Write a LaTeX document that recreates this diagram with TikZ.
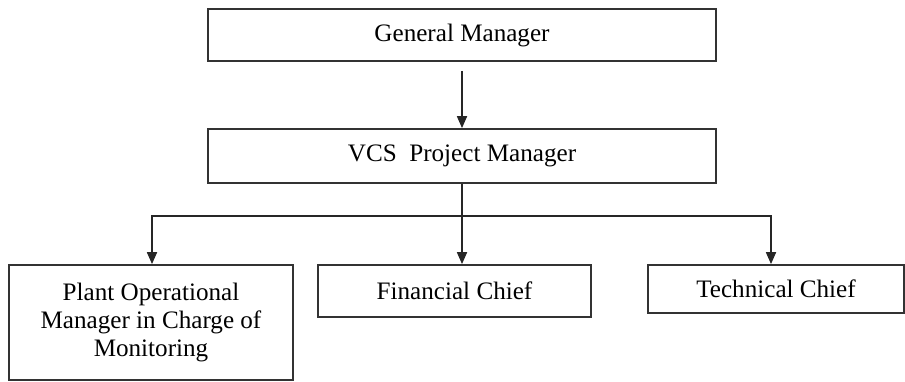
\documentclass[tikz,border=0pt]{standalone}
\usepackage{fontspec}
\setmainfont{Liberation Serif}
\usetikzlibrary{positioning,arrows.meta}

\begin{document}
\begin{tikzpicture}[
	align=center,
        >={Triangle[length=0.24cm,width=0.2cm]},
	line width=0.9pt,
        boxit/.style={
      	draw=black!80,
      	fill=white,
      	line width=1pt,
		inner sep=0pt,
		font=\fontsize{14.3}{16}\selectfont
        },
	link/.style={draw=black!85, line width=1pt}
  	]
    \useasboundingbox (0,0) rectangle (18.1,-7.62);
    % managers
    \node[boxit, minimum width=10.16cm, minimum height=1.04cm] at (9.24,-0.7) (gm) {General Manager};
    \node[boxit, minimum width=10.16cm, minimum height=1.08cm] at (9.24,-3.12) (vcs) {VCS\ \ Project Manager};
    \draw[link,->] ([yshift=-0.18cm]gm.south) -- (vcs.north);

    % chiefs
    \node[boxit, minimum width=5.68cm, minimum height=2.3cm] at (3.02,-6.45) (plant) {Plant Operational\\Manager in Charge of\\Monitoring};
    \node[boxit, minimum width=5.46cm, minimum height=1.04cm] at (9.09,-5.82) (fin) {Financial Chief};
    \node[boxit, minimum width=5.12cm, minimum height=0.96cm] at (15.52,-5.78) (tech) {Technical Chief};

    % branches
    \coordinate (split) at (9.24,-4.32);
    \draw[link] (vcs.south) -- (split);
    \draw[link,->] (split) -| ([xshift=0.02cm]plant.north);
    \draw[link,->] (split) -- (split |- fin.north);
    \draw[link,->] (split) -| ([xshift=-0.1cm]tech.north);
\end{tikzpicture}
\end{document}
